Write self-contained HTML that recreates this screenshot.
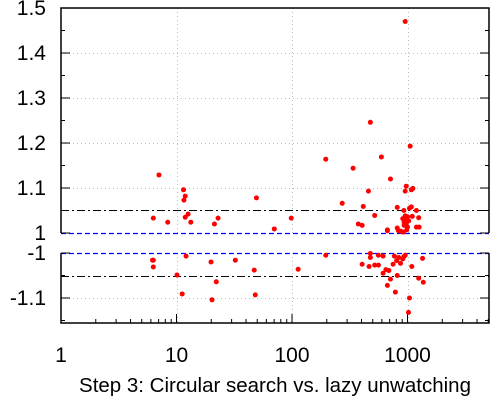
<!DOCTYPE html>
<html><head><meta charset="utf-8"><style>
html,body{margin:0;padding:0;background:#fff;}
svg{display:block;font-family:"Liberation Sans",Arial,sans-serif;}
</style></head><body>
<svg id="chart" width="500" height="400" viewBox="0 0 500 400" xmlns="http://www.w3.org/2000/svg"></svg>
<script>
const xTicks = [1, 10, 100, 1000];
const xTickLabels = ["1", "10", "100", "1000"];
const yTicksUpper = [1, 1.1, 1.2, 1.3, 1.4, 1.5];
const yTickLabelsUpper = ["1", "1.1", "1.2", "1.3", "1.4", "1.5"];
const yTicksLower = [-1, -1.1];
const yTickLabelsLower = ["-1", "-1.1"];
const refLevels = [1.05, -1.05];
const xValues = [7.05,11.5,11.9,11.6,12.6,11.9,13.3,6.3,8.4,21.3,22.9,49.2,70.3,98.5,196,
6.2,6.3,6.3,12.1,10.1,11.2,19.9,22.1,20.3,32.3,47.1,48.1,113,196,
955,477,1055,594,338,712,975,1113,1080,955,459,272,414,815,1040,1080,930,1195,520,955,1000,1100,1250,910,940,1025,935,975,375,405,935,1195,1260,1000,815,670,670,835,985,920,875,
477,477,560,615,770,840,930,955,910,805,1350,405,465,520,560,750,870,1090,650,690,615,815,712,1250,1370,670,785,1040,1020];
const yValues = [1.129,1.096,1.082,1.073,1.042,1.035,1.024,1.033,1.024,1.020,1.033,1.078,1.009,1.033,1.164,
-1.016,-1.016,-1.031,-1.007,-1.049,-1.091,-1.020,-1.064,-1.104,-1.016,-1.038,-1.093,-1.036,-1.005,
1.470,1.246,1.193,1.169,1.144,1.120,1.104,1.099,1.096,1.093,1.093,1.066,1.059,1.057,1.055,1.058,1.050,1.050,1.039,1.038,1.036,1.037,1.034,1.032,1.030,1.027,1.024,1.021,1.020,1.017,1.017,1.013,1.013,1.013,1.011,1.007,1.005,1.005,1.007,1.002,1.004,
-1.001,-1.010,-1.005,-1.007,-1.007,-1.010,-1.008,-1.005,-1.013,-1.017,-1.012,-1.025,-1.030,-1.027,-1.027,-1.025,-1.023,-1.030,-1.037,-1.039,-1.045,-1.050,-1.058,-1.056,-1.065,-1.072,-1.087,-1.100,-1.132];

const svg = document.getElementById('chart');
const NS = 'http://www.w3.org/2000/svg';
const L = 61, R = 489, TOP = 8, UB = 233, LT = 253, BOT = 323, DEC = 115.5, PX = 450;
function xs(v){ return L + Math.log10(v) * DEC; }
function ys(v){ return v > 0 ? UB - (v - 1) * PX : LT + (-v - 1) * PX; }
function mk(tag, attrs, parent){
  const e = document.createElementNS(NS, tag);
  for (const k in attrs) e.setAttribute(k, attrs[k]);
  (parent || svg).appendChild(e);
  return e;
}
const grid = mk('g', {});


xTicks.slice(1).forEach(t => {
  const x = Math.round(xs(t)) + 0.5;
  mk('line', {x1: x, x2: x, y1: TOP, y2: UB, stroke: '#bbb', 'stroke-dasharray': '1,3'}, grid);
  mk('line', {x1: x, x2: x, y1: LT, y2: BOT, stroke: '#bbb', 'stroke-dasharray': '1,3'}, grid);
});
yTicksUpper.concat(yTicksLower).forEach(t => {
  if (Math.abs(t) === 1) return;
  const y = Math.round(ys(t)) + 0.5;
  mk('line', {x1: L, x2: R, y1: y, y2: y, stroke: '#bbb', 'stroke-dasharray': '1,3'}, grid);
});
[1, -1].forEach(v => {
  const y = Math.round(ys(v)) + 0.5;
  const l = mk('line', {x1: L, x2: R, y1: y, y2: y, stroke: '#00f', 'stroke-dasharray': '5,3', 'stroke-width': 1.3});
  
  
});
refLevels.forEach(v => {
  const y = Math.round(ys(v)) + 0.5;
  const l = mk('line', {x1: L, x2: R, y1: y, y2: y, stroke: '#000', 'stroke-dasharray': '8,3,2,3'});
  
  
});
const frame = mk('path', {d: `M${L},${UB}V${TOP}H${R}V${UB}M${L},${LT}V${BOT}H${R}V${LT}`, fill: 'none', stroke: '#000', 'stroke-width': 1.5});


const xa = mk('g', {});


for (let d = 0; d <= 3; d++) {
  for (let m = 1; m <= 9; m++) {
    const v = m * Math.pow(10, d);
    const x = xs(v);
    if (x > R) continue;
    mk('line', {x1: x, x2: x, y1: BOT, y2: BOT - (m === 1 ? 9 : 4), stroke: '#000'}, xa);
  }
}
xTicks.forEach((t, i) => {
  const tx = mk('text', {x: xs(t), y: 362, 'text-anchor': 'middle', 'font-size': 21}, xa);
  tx.textContent = xTickLabels[i];
});
const ya = mk('g', {});


function yTick(v, len){
  mk('line', {x1: L, x2: L + len, y1: ys(v), y2: ys(v), stroke: '#000'}, ya);
  mk('line', {x1: R, x2: R - len, y1: ys(v), y2: ys(v), stroke: '#000'}, ya);
}
for (let v = 1; v <= 1.501; v += 0.05) yTick(v, Math.round(v*100) % 10 === 0 ? 9 : 4);
for (let v = -1; v >= -1.151; v -= 0.05) yTick(v, Math.round(-v*100) % 10 === 0 ? 9 : 4);
yTicksUpper.forEach((t, i) => {
  const tx = mk('text', {x: 46, y: ys(t) + 7, 'text-anchor': 'end', 'font-size': 21}, ya);
  tx.textContent = yTickLabelsUpper[i];
});
yTicksLower.forEach((t, i) => {
  const tx = mk('text', {x: 46, y: ys(t) + 7, 'text-anchor': 'end', 'font-size': 21}, ya);
  tx.textContent = yTickLabelsLower[i];
});
const pts = mk('g', {});


xValues.forEach((xv, i) => {
  const c = mk('circle', {cx: xs(xv), cy: ys(yValues[i]), r: 2.5, fill: '#f00'}, pts);
  
  
});
const t = mk('text', {x: 275, y: 392, 'text-anchor': 'middle', 'font-size': 20.5});


t.textContent = 'Step 3: Circular search vs. lazy unwatching';
</script>
</body></html>
